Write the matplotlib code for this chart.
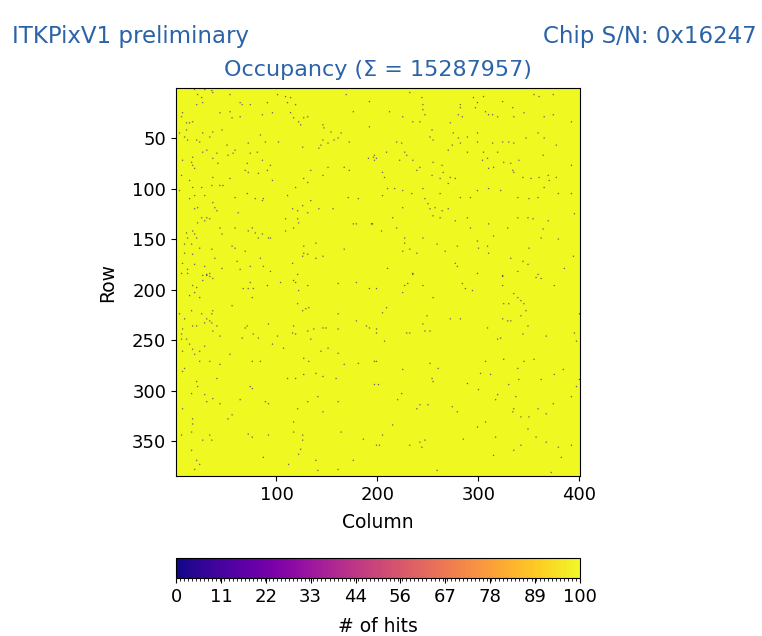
import numpy as np
import matplotlib
matplotlib.use("Agg")
import matplotlib.pyplot as plt
from matplotlib.ticker import FormatStrFormatter, MultipleLocator

n_cols = 400
n_rows = 384
full_hits = 100
dead_hits = 0

# (column, row) of low-occupancy pixels
dead_cols = [
    19, 24, 29, 36, 22, 26, 27, 21, 37, 54, 64, 66, 74, 91, 101, 109, 114, 111, 119, 114,
    54, 56, 44, 7, 6, 4, 11, 14, 17, 11, 9, 12, 21, 24, 27, 37, 34, 46, 64, 86,
    96, 117, 122, 127, 131, 124, 146, 147, 154, 164, 169, 192, 176, 84, 89, 102, 126, 142, 146, 144,
    151, 157, 161, 172, 192, 16, 17, 19, 17, 27, 31, 41, 37, 42, 51, 59, 52, 57, 72, 74,
    81, 71, 72, 69, 86, 82, 94, 96, 91, 127, 131, 134, 146, 151, 167, 172, 191, 196, 197, 7,
    6, 4, 14, 17, 19, 14, 26, 36, 37, 44, 47, 29, 37, 41, 39, 22, 19, 54, 59, 62,
    71, 79, 87, 86, 111, 119, 116, 126, 134, 121, 142, 156, 171, 181, 176, 194, 179, 26, 31, 34,
    29, 22, 44, 46, 59, 72, 76, 79, 82, 86, 92, 94, 109, 109, 117, 121, 122, 131, 11, 12,
    17, 19, 21, 16, 9, 17, 24, 36, 39, 56, 59, 69, 61, 9, 7, 12, 6, 19, 29, 31,
    34, 46, 64, 74, 84, 87, 94, 121, 126, 127, 131, 127, 139, 146, 167, 116, 139,
    244, 245, 245, 247, 232, 212, 235, 242, 225, 254, 252, 255, 272, 275, 282, 280, 284, 282, 295, 299,
    297, 307, 305, 310, 314, 319, 324, 334, 335, 345, 355, 360, 374, 365, 374, 392, 270, 274, 280, 282,
    289, 289, 299, 299, 305, 314, 319, 324, 330, 335, 347, 359, 365, 377, 197, 199, 209, 219, 224, 227,
    229, 222, 235, 239, 242, 255, 264, 265, 262, 272, 277, 254, 270, 304, 309, 310, 315, 325, 332, 334,
    340, 335, 344, 352, 360, 364, 369, 377, 392, 205, 207, 205, 210, 217, 225, 234, 245, 247, 262, 250,
    252, 257, 264, 270, 255, 262, 282, 292, 299, 310, 322, 339, 350, 359, 365, 370, 379, 392, 395, 369,
    364, 354, 349, 339, 329, 310, 315, 292, 289, 277, 215, 219, 225, 227, 225, 204, 195, 227, 245, 232,
    239, 259, 267, 279, 299, 300, 309, 310, 332, 350, 362, 379, 394, 344, 349, 359, 362, 210, 235, 277,
    279, 299, 324, 385, 339,
    6, 12, 27, 31, 34, 37, 17, 21, 19, 14, 24, 27, 74, 72, 77, 76, 91, 67, 104, 117,
    119, 122, 131, 161, 179, 192, 199, 4, 9, 7, 6, 6, 11, 17, 21, 29, 31, 34, 36, 37,
    36, 26, 16, 56, 37, 44, 41, 69, 71, 77, 82, 66, 92, 101, 96, 107, 121, 126, 129, 132,
    117, 116, 119, 131, 134, 137, 146, 149, 161, 161, 179, 189, 192, 199, 7, 14, 17, 19, 24, 29,
    24, 9, 7, 1, 21, 22, 34, 41, 44, 54, 76, 84, 111, 119, 127, 127, 132, 144, 151, 161,
    139, 146, 159, 167, 181, 199, 201, 16, 29, 31, 37, 44, 64, 74, 76, 89, 92, 121, 131, 141,
    161, 146, 7, 17, 17, 52, 56, 6, 16, 34, 36, 27, 72, 76, 92, 117, 117, 126, 126, 124,
    122, 164, 186, 202, 16, 21, 24, 19, 87, 112, 139, 141, 161, 176,
    235, 227, 230, 225, 245, 255, 284, 287, 294, 324, 324, 335, 339, 342, 345, 347, 357, 362, 375, 330,
    325, 324, 329, 332, 342, 209, 205, 199, 207, 229, 232, 245, 249, 247, 252, 272, 282, 309, 322, 319,
    344, 349, 367, 395, 397, 400, 197, 225, 252, 260, 254, 255, 289, 302, 312, 307, 325, 339, 340, 345,
    355, 362, 375, 384, 397, 400, 197, 220, 224, 239, 242, 250, 274, 279, 299, 307, 300, 317, 319, 330,
    337, 334, 342, 350, 335, 349, 359, 367, 374, 392, 215, 205, 199, 232, 242, 244, 247, 285, 317, 315,
    335, 342, 357, 367, 379, 382, 392, 259, 372,
]
dead_rows = [
    2, 1, 2, 3, 7, 10, 15, 17, 5, 7, 15, 17, 17, 15, 7, 9, 10, 15, 17, 25,
    24, 30, 25, 25, 29, 45, 35, 35, 34, 42, 49, 52, 52, 54, 45, 44, 49, 42, 29, 27,
    25, 30, 34, 30, 29, 37, 37, 40, 44, 45, 7, 14, 24, 47, 54, 54, 59, 60, 52, 57,
    55, 52, 50, 54, 39, 74, 77, 80, 69, 64, 62, 65, 70, 75, 57, 62, 67, 65, 55, 65,
    64, 75, 84, 82, 72, 85, 77, 92, 82, 90, 94, 82, 87, 79, 79, 82, 70, 69, 72, 72,
    87, 102, 92, 99, 107, 110, 99, 97, 89, 97, 97, 107, 114, 122, 119, 119, 120, 90, 109, 124,
    105, 110, 110, 112, 107, 99, 120, 117, 112, 122, 120, 120, 109, 110, 135, 135, 135, 129, 129, 130,
    132, 134, 139, 145, 139, 142, 139, 144, 149, 145, 149, 149, 130, 142, 139, 130, 134, 124, 144, 149,
    142, 145, 149, 155, 155, 165, 159, 160, 169, 157, 159, 162, 172, 164, 174, 180, 184, 175, 177, 185,
    187, 179, 180, 177, 169, 177, 182, 185, 167, 164, 165, 157, 169, 167, 160, 174, 154,
    10, 17, 22, 27, 5, 24, 34, 34, 29, 42, 49, 52, 35, 45, 20, 27, 29, 17, 10, 15,
    20, 24, 9, 27, 27, 29, 14, 20, 29, 25, 7, 9, 7, 29, 27, 34, 62, 57, 50, 55,
    64, 49, 45, 54, 64, 55, 64, 54, 54, 55, 50, 45, 50, 57, 67, 70, 64, 54, 55, 64,
    67, 72, 72, 82, 79, 74, 77, 84, 90, 89, 90, 87, 95, 72, 70, 80, 79, 74, 75, 82,
    72, 84, 89, 90, 89, 67, 87, 89, 77, 84, 89, 107, 100, 100, 102, 105, 100, 110, 105, 115,
    120, 119, 122, 120, 127, 129, 109, 109, 102, 100, 102, 109, 110, 109, 99, 92, 105, 105, 125, 132,
    140, 130, 129, 129, 139, 135, 147, 139, 129, 132, 129, 139, 119, 154, 162, 142, 135, 149, 149, 160,
    164, 155, 162, 157, 152, 159, 157, 164, 169, 159, 149, 150, 167, 172, 175, 185, 189, 179, 185, 174,
    177, 184, 187, 179, 182,
    184, 184, 186, 186, 184, 189, 196, 198, 203, 206, 208, 191, 193, 199, 199, 208, 196, 199, 193, 191,
    193, 201, 196, 194, 193, 199, 199, 224, 229, 239, 244, 249, 249, 236, 236, 233, 229, 231, 233, 221,
    224, 224, 221, 216, 241, 246, 236, 238, 236, 244, 248, 248, 234, 246, 254, 258, 214, 221, 219, 218,
    236, 243, 244, 241, 249, 239, 238, 238, 224, 239, 231, 236, 238, 239, 261, 254, 259, 264, 261, 256,
    271, 278, 281, 288, 291, 296, 271, 288, 274, 264, 271, 271, 288, 288, 284, 268, 271, 261, 258, 263,
    283, 286, 288, 274, 273, 271, 294, 303, 304, 311, 308, 313, 309, 296, 298, 311, 313, 318, 311, 306,
    311, 321, 318, 328, 333, 328, 324, 344, 341, 344, 349, 349, 343, 346, 344, 331, 341, 344, 349, 358,
    363, 341, 348, 354, 359, 369, 373, 378, 366, 373, 369, 379, 378, 369,
    184, 196, 194, 203, 196, 208, 194, 199, 201, 186, 196, 204, 208, 211, 214, 221, 188, 189, 196, 214,
    214, 229, 231, 231, 226, 218, 223, 243, 251, 243, 243, 234, 226, 241, 241, 229, 229, 238, 248, 249,
    244, 236, 246, 243, 251, 224, 271, 279, 273, 278, 288, 291, 293, 283, 284, 271, 269, 278, 289, 271,
    269, 289, 284, 279, 296, 289, 294, 309, 303, 318, 314, 314, 316, 321, 336, 331, 299, 309, 304, 294,
    306, 321, 326, 326, 318, 338, 318, 323, 313, 306, 334, 344, 354, 354, 351, 356, 349, 348, 346, 364,
    359, 354, 346, 351, 356, 366, 354, 379, 381,
]

# build the occupancy map
occ = np.full((n_rows, n_cols), float(full_hits))
for c, r in zip(dead_cols, dead_rows):
    occ[r - 1, c - 1] = dead_hits

fig = plt.figure(figsize=(7.62, 6.36), dpi=100)
blue = "#2b63a8"

fig.text(12 / 762, 1 - 36 / 636, "ITKPixV1 preliminary", ha="left", va="center",
         fontsize=16.5, color=blue)
fig.text(757 / 762, 1 - 36 / 636, "Chip S/N: 0x16247", ha="right", va="center",
         fontsize=16.5, color=blue)

ax = fig.add_axes([176 / 762, 1 - 476 / 636, 404 / 762, 388 / 636])
im = ax.imshow(occ, cmap="plasma", vmin=0, vmax=100, aspect="auto",
               interpolation="gaussian", interpolation_stage="rgba",
               extent=[0.5, n_cols + 0.5, n_rows + 0.5, 0.5])
ax.set_title("Occupancy (\u03a3 = 15287957)", fontsize=16, color=blue, pad=9)
ax.set_xlabel("Column", fontsize=13.5, labelpad=7)
ax.set_ylabel("Row", fontsize=13.5, labelpad=11)
ax.set_xticks([100, 200, 300, 400])
ax.set_yticks([50, 100, 150, 200, 250, 300, 350])
ax.tick_params(labelsize=13)

cax = fig.add_axes([176 / 762, 1 - 578 / 636, 404 / 762, 20 / 636])
cb = fig.colorbar(im, cax=cax, orientation="horizontal")
cb.set_ticks(np.linspace(0, 100, 10))
cb.ax.xaxis.set_major_formatter(FormatStrFormatter("%.0f"))
cb.ax.xaxis.set_minor_locator(MultipleLocator(1))
cb.ax.tick_params(labelsize=13)
cb.ax.tick_params(which="minor", length=2)
cb.set_label("# of hits", fontsize=13.5, labelpad=8)

fig.savefig("out.png", dpi=100)
